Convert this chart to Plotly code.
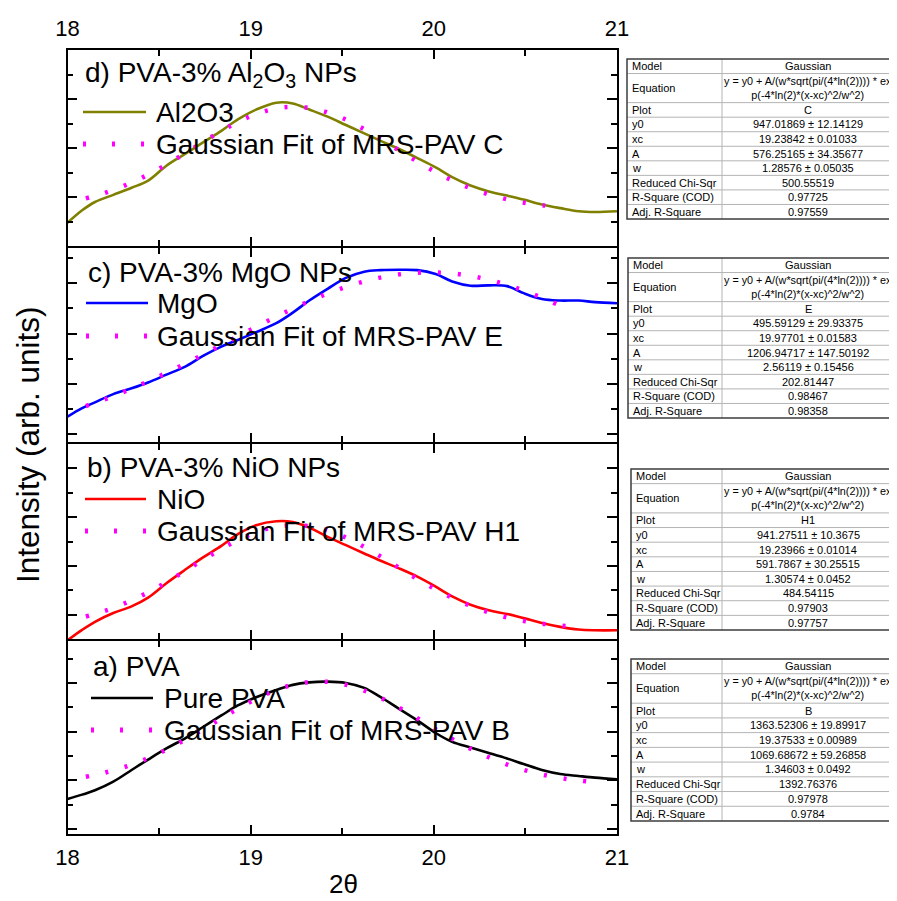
import plotly.graph_objects as go

# ---------------- data ----------------
two_theta = [18.0, 18.08, 18.15, 18.25, 18.35, 18.44, 18.54, 18.64, 18.74, 18.84, 18.93,
             19.03, 19.14, 19.23, 19.32, 19.42, 19.52, 19.62, 19.71, 19.81, 19.91, 20.01,
             20.1, 20.2, 20.3, 20.4, 20.49, 20.59, 20.69, 20.79, 20.88, 21.0]

al2o3 = [895, 946, 980, 1009, 1038, 1067, 1128, 1175, 1223, 1270, 1317,
         1357, 1385, 1382, 1357, 1328, 1294, 1260, 1229, 1196, 1159, 1121,
         1081, 1047, 1023, 1006, 990, 970, 955, 942, 939, 942]
mgo = [568, 590, 605, 626, 641, 656, 676, 696, 724, 748, 765,
       785, 808, 835, 866, 896, 924, 940, 944, 945, 944, 934,
       915, 904, 905, 903, 885, 870, 866, 866, 862, 859]
nio = [895, 938, 971, 1007, 1034, 1070, 1129, 1183, 1235, 1282, 1330,
       1367, 1383, 1380, 1357, 1319, 1285, 1251, 1221, 1190, 1156, 1115,
       1075, 1041, 1018, 1003, 986, 966, 950, 939, 936, 936]
pva = [1265, 1297, 1328, 1390, 1474, 1549, 1629, 1700, 1783, 1866, 1938,
       1997, 2049, 2086, 2104, 2109, 2100, 2064, 1997, 1914, 1831, 1740,
       1676, 1636, 1597, 1557, 1517, 1474, 1445, 1431, 1419, 1407]

fit_x_d = [18.1, 18.2, 18.3, 18.4, 18.5, 18.6, 18.7, 18.8, 18.9, 19.0, 19.1, 19.2, 19.3, 19.4,
           19.5, 19.6, 19.7, 19.8, 19.9, 20.0, 20.1, 20.2, 20.3, 20.4, 20.5, 20.6, 20.7]
fit_d = [994.9, 1016.0, 1043.2, 1076.5, 1115.8, 1159.6, 1205.9, 1252.0, 1294.4, 1329.8, 1354.7,
         1367.0, 1365.4, 1350.0, 1322.4, 1285.1, 1241.6, 1195.1, 1149.1, 1106.2, 1068.2, 1036.3,
         1010.6, 990.8, 976.2, 965.8, 958.7]
fit_x_cb = [18.1, 18.2, 18.3, 18.4, 18.5, 18.6, 18.7, 18.8, 18.9, 19.0, 19.1, 19.2, 19.3, 19.4,
            19.5, 19.6, 19.7, 19.8, 19.9, 20.0, 20.1, 20.2, 20.3, 20.4, 20.5, 20.6, 20.7, 20.75]
fit_c = [595.5, 612.1, 630.4, 650.4, 671.7, 694.2, 717.8, 742.1, 766.8, 791.3, 815.4, 838.6,
         860.3, 880.2, 897.7, 912.5, 924.2, 932.5, 937.2, 938.2, 935.5, 929.1, 919.2, 906.1,
         889.9, 871.3, 850.6, 839.5]
fit_b = [992.8, 1014.7, 1042.6, 1076.5, 1116.2, 1160.2, 1206.4, 1252.2, 1294.2, 1329.1, 1353.8,
         1365.9, 1364.5, 1349.6, 1322.6, 1286.0, 1242.9, 1196.8, 1150.8, 1107.6, 1069.0, 1036.3,
         1009.7, 989.0, 973.4, 962.3, 954.6, 951.7]
fit_x_a = [18.1, 18.2, 18.3, 18.4, 18.5, 18.6, 18.7, 18.8, 18.9, 19.0, 19.1, 19.2, 19.3, 19.4,
           19.5, 19.6, 19.7, 19.8, 19.9, 20.0, 20.1, 20.2, 20.3, 20.4, 20.5, 20.6, 20.7, 20.8, 20.9]
fit_a = [1425.5, 1453.7, 1490.7, 1537.6, 1594.7, 1661.1, 1735.0, 1813.4, 1891.8, 1965.3, 2028.3,
         2075.8, 2103.7, 2109.4, 2092.5, 2054.6, 1998.8, 1930.0, 1853.4, 1774.4, 1697.8, 1627.2,
         1565.3, 1513.3, 1471.3, 1438.7, 1414.4, 1396.9, 1384.8]

x_tick_vals = [18, 19, 20, 21]
x_tick_text = ["18", "19", "20", "21"]

panel_titles = ["a) PVA", "b) PVA-3% NiO NPs", "c) PVA-3% MgO NPs",
                "d) PVA-3% Al<sub>2</sub>O<sub>3</sub> NPs"]
series_names = ["Pure PVA", "NiO", "MgO", "Al2O3"]
fit_names = ["Gaussian Fit of MRS-PAV B", "Gaussian Fit of MRS-PAV H1",
             "Gaussian Fit of MRS-PAV E", "Gaussian Fit of MRS-PAV C"]
series_colors = ["#000000", "#FF0000", "#0000FF", "#808000"]
fit_color = "#FF00FF"

table_labels = ["Model", "Equation", "Plot", "y0", "xc", "A", "w",
                "Reduced Chi-Sqr", "R-Square (COD)", "Adj. R-Square"]
equation_text = "y = y0 + A/(w*sqrt(pi/(4*ln(2)))) * ex<br>p(-4*ln(2)*(x-xc)^2/w^2)"
table_plot = ["B", "H1", "E", "C"]
table_y0 = ["1363.52306 ± 19.89917", "941.27511 ± 10.3675", "495.59129 ± 29.93375", "947.01869 ± 12.14129"]
table_xc = ["19.37533 ± 0.00989", "19.23966 ± 0.01014", "19.97701 ± 0.01583", "19.23842 ± 0.01033"]
table_A = ["1069.68672 ± 59.26858", "591.7867 ± 30.25515", "1206.94717 ± 147.50192", "576.25165 ± 34.35677"]
table_w = ["1.34603 ± 0.0492", "1.30574 ± 0.0452", "2.56119 ± 0.15456", "1.28576 ± 0.05035"]
table_chi = ["1392.76376", "484.54115", "202.81447", "500.55519"]
table_r2 = ["0.97978", "0.97903", "0.98467", "0.97725"]
table_adj = ["0.9784", "0.97757", "0.98358", "0.97559"]

# ---------------- layout geometry (screen pixels) ----------------
PAGE_OFF = 8                 # the page body margin puts the figure 8px from the corner
SCREEN_W, SCREEN_H = 897, 901
W, H = SCREEN_W - PAGE_OFF, SCREEN_H - PAGE_OFF
TOP, BOT = 50, 834
edges = [834, 640, 443, 247, 50]   # panel borders from bottom (a) to top (d)
XL, XR = 67.5, 617
LW = 1.8
FONT = "Liberation Sans, Arial, sans-serif"


def fx(px):
    return (px - PAGE_OFF) / W


def fy(py):
    return (BOT - py) / (BOT - TOP)


y_axes = [
    dict(range=[1014, 2402], tick0=1050, dtick=350, mtick0=1050, mdtick=175),
    dict(range=[900, 1700], tick0=1000, dtick=200, mtick0=900, mdtick=100),
    dict(range=[503, 1001], tick0=523.3, dtick=129, mtick0=523.3, mdtick=64.5),
    dict(range=[800, 1600], tick0=800, dtick=200, mtick0=800, mdtick=100),
]
curves = [pva, nio, mgo, al2o3]
fits = [(fit_x_a, fit_a), (fit_x_cb, fit_b), (fit_x_cb, fit_c), (fit_x_d, fit_d)]

fig = go.Figure()
for i in range(4):
    suf = "" if i == 0 else str(i + 1)
    fig.add_trace(go.Scatter(x=two_theta, y=curves[i], mode="lines", line_shape="spline",
                             line=dict(color=series_colors[i], width=2.6),
                             xaxis="x" + suf, yaxis="y" + suf, showlegend=False,
                             name=series_names[i]))
    fig.add_trace(go.Scatter(x=fits[i][0], y=fits[i][1], mode="lines", line_shape="spline",
                             line=dict(color=fit_color, width=4.5, dash="3px,17px"),
                             xaxis="x" + suf, yaxis="y" + suf, showlegend=False,
                             name=fit_names[i]))

layout = dict(width=W, height=H,
              margin=dict(l=0, r=0, t=TOP - PAGE_OFF, b=SCREEN_H - BOT, pad=0, autoexpand=False),
              paper_bgcolor="white", plot_bgcolor="white",
              font=dict(family=FONT, color="black"), showlegend=False)

for i in range(4):
    suf = "" if i == 0 else str(i + 1)
    # shared borders: pull each panel back by half a line width so both frame lines coincide
    bot_px = edges[i] - (LW / 2 if i > 0 else 0)
    top_px = edges[i + 1] + (LW / 2 if i < 3 else 0)
    ya = y_axes[i]
    layout["yaxis" + suf] = dict(
        domain=[max(0, fy(bot_px)), min(1, fy(top_px))], anchor="x" + suf, range=ya["range"],
        tick0=ya["tick0"], dtick=ya["dtick"], ticks="inside", ticklen=10, tickwidth=1.6,
        tickcolor="black", showticklabels=False, showline=True, linecolor="black",
        linewidth=LW, mirror="allticks", showgrid=False, zeroline=False, automargin=False,
        minor=dict(ticks="inside", ticklen=6, tickwidth=1.6, tickcolor="black",
                   tick0=ya["mtick0"], dtick=ya["mdtick"], showgrid=False))
    xa = dict(domain=[fx(XL), fx(XR)], anchor="y" + suf, range=[18, 21],
              tickmode="array", tickvals=x_tick_vals, ticktext=x_tick_text,
              ticks="inside", ticklen=9, tickwidth=1.6, tickcolor="black",
              showline=True, linecolor="black", linewidth=LW, mirror="allticks",
              showgrid=False, zeroline=False, automargin=False,
              minor=dict(ticks="inside", ticklen=6, tickwidth=1.6, tickcolor="black",
                         tick0=18, dtick=0.5, showgrid=False),
              tickfont=dict(size=22, color="black", family=FONT),
              showticklabels=(i == 0 or i == 3), ticklabelstandoff=3)
    if i == 3:
        xa["side"] = "top"
    if i > 0:
        xa["matches"] = "x"
    layout["xaxis" + suf] = xa

fig.update_layout(**layout)

annotations = []
shapes = []

# ----- in-panel legends -----
legend_pos = [  # title_y, title_x, line_y, dots_y, line_x0, line_x1, text_x
    (666, 91, 698, 730, 91, 153, 162),
    (467, 85, 499, 531, 85, 146, 155),
    (272, 86, 303, 336, 86, 148, 155),
    (75, 83, 112, 144, 83, 146, 154),
]
for i in range(4):
    ty, tx, ly, dy, lx0, lx1, txx = legend_pos[i]
    annotations.append(dict(x=fx(tx), y=fy(ty), xref="paper", yref="paper", text=panel_titles[i],
                            showarrow=False, xanchor="left", yanchor="middle",
                            font=dict(size=28, family=FONT, color="black")))
    shapes.append(dict(type="line", xref="paper", yref="paper", x0=fx(lx0), x1=fx(lx1),
                       y0=fy(ly), y1=fy(ly), line=dict(color=series_colors[i], width=2.6)))
    annotations.append(dict(x=fx(txx), y=fy(ly), xref="paper", yref="paper", text=series_names[i],
                            showarrow=False, xanchor="left", yanchor="middle",
                            font=dict(size=28, family=FONT, color="black")))
    shapes.append(dict(type="line", xref="paper", yref="paper", x0=fx(lx0), x1=fx(lx1 + 2),
                       y0=fy(dy), y1=fy(dy), line=dict(color=fit_color, width=5, dash="3px,26px")))
    annotations.append(dict(x=fx(txx), y=fy(dy), xref="paper", yref="paper", text=fit_names[i],
                            showarrow=False, xanchor="left", yanchor="middle",
                            font=dict(size=28, family=FONT, color="black")))

# ----- result tables -----
table_geom = [  # left, top, bottom
    (631, 659, 821),
    (631, 469, 630),
    (628, 258, 418),
    (627, 59, 219),
]
DIV = 722
VAL_C = 808
TABLE_R = 930
for i in range(4):
    left, top, bottom = table_geom[i]
    unit = (bottom - top) / 11.0
    values = ["Gaussian", equation_text, table_plot[i], table_y0[i], table_xc[i], table_A[i],
              table_w[i], table_chi[i], table_r2[i], table_adj[i]]
    y = top
    for r, lab in enumerate(table_labels):
        h = unit * (2 if r == 1 else 1)
        yc = y + h / 2
        annotations.append(dict(x=fx(left + 3), y=fy(yc), xref="paper", yref="paper", text=lab,
                                showarrow=False, xanchor="left", yanchor="middle",
                                font=dict(size=11, family=FONT, color="black")))
        annotations.append(dict(x=fx(VAL_C), y=fy(yc), xref="paper", yref="paper", text=values[r],
                                showarrow=False, xanchor="center", yanchor="middle", align="center",
                                font=dict(size=11 if r != 1 else 10.8, family=FONT, color="black")))
        y += h
        if r < len(table_labels) - 1:
            shapes.append(dict(type="line", xref="paper", yref="paper", x0=fx(left), x1=fx(TABLE_R),
                               y0=fy(y), y1=fy(y), line=dict(color="#b4b4b4", width=1)))
    shapes.append(dict(type="line", xref="paper", yref="paper", x0=fx(DIV), x1=fx(DIV),
                       y0=fy(top), y1=fy(bottom), line=dict(color="#b4b4b4", width=1)))
    shapes.append(dict(type="rect", xref="paper", yref="paper", x0=fx(left), x1=fx(TABLE_R),
                       y0=fy(bottom), y1=fy(top), line=dict(color="#3c3c3c", width=1.5)))

# ----- axis titles -----
annotations.append(dict(x=fx(28), y=fy(445), xref="paper", yref="paper",
                        text="Intensity (arb. units)", textangle=-90, showarrow=False,
                        xanchor="center", yanchor="middle",
                        font=dict(size=31.5, family=FONT, color="black")))
annotations.append(dict(x=fx(343), y=fy(884), xref="paper", yref="paper", text="2θ",
                        showarrow=False, xanchor="center", yanchor="middle",
                        font=dict(size=26, family=FONT, color="black")))

fig.update_layout(annotations=annotations, shapes=shapes)
fig.write_html("out.html")
